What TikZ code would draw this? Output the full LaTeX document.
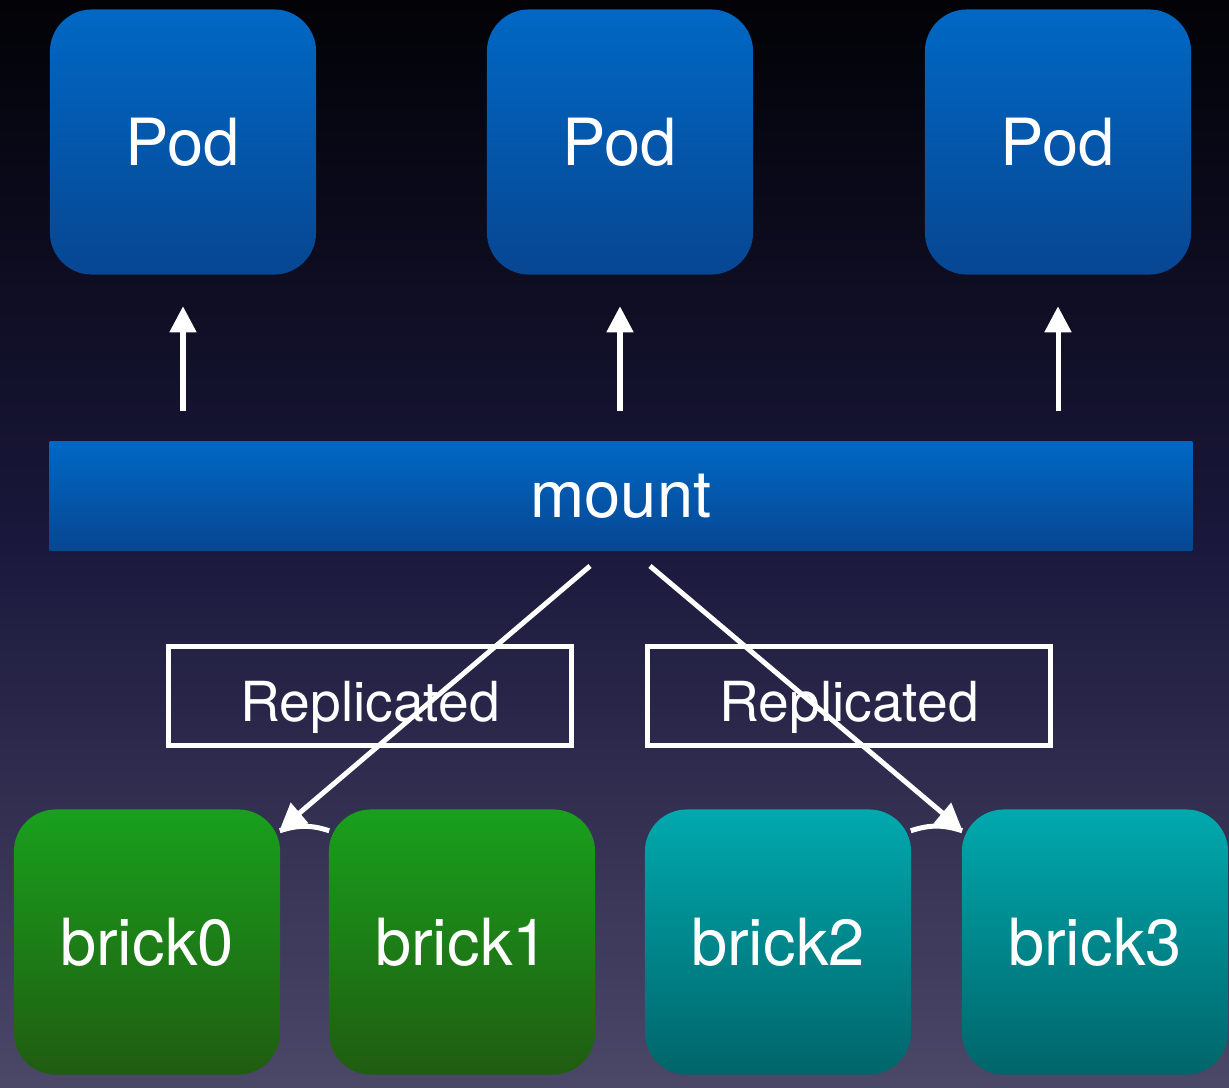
\documentclass[tikz,border=0pt]{standalone}
\usepackage{fontspec}
\setmainfont{TeX Gyre Heros}
\usetikzlibrary{arrows.meta}

\definecolor{bgtop}{HTML}{020207}
\definecolor{bgmid}{HTML}{1A183C}
\definecolor{bgbot}{HTML}{4C4868}
\definecolor{podtop}{HTML}{0068C4}
\definecolor{podbot}{HTML}{074692}
\definecolor{greentop}{HTML}{19A01D}
\definecolor{greenbot}{HTML}{205C11}
\definecolor{tealtop}{HTML}{00A9AE}
\definecolor{tealbot}{HTML}{00656A}

\tikzset{
  label/.style={text=white, font=\fontsize{18.5}{22}\selectfont},
  box/.style={label, rounded corners=0.42cm, minimum width=2.66cm, minimum height=2.65cm, inner sep=0pt},
  pod/.style={box, top color=podtop, bottom color=podbot},
  greenbrick/.style={box, top color=greentop, bottom color=greenbot},
  tealbrick/.style={box, top color=tealtop, bottom color=tealbot},
  bar/.style={label, top color=podtop, bottom color=podbot, minimum width=11.42cm, minimum height=1.08cm, inner sep=0pt},
  repbox/.style={text=white, font=\fontsize{15.7}{19}\selectfont, text height=0.5cm, text depth=0pt, draw=white, line width=0.05cm, minimum width=4.03cm, minimum height=0.99cm, inner sep=0pt},
  link/.style={white, line width=0.05cm},
  arr/.style={link, -{Triangle[width=0.26cm,length=0.26cm]}}
}

\begin{document}
\begin{tikzpicture}[x=0.01cm, y=-0.01cm]
  \foreach \i in {0,...,99} {
    \ifnum\i<50 \colorlet{band}{bgmid!\the\numexpr2*\i\relax!bgtop}\else \colorlet{band}{bgbot!\the\numexpr2*\i-100\relax!bgmid}\fi
    \fill[band] (0, \i*10.87) rectangle (1229, \i*10.87+11.5);
  }
  \useasboundingbox (0, 0) rectangle (1229, 1087);

  \node[pod] (pod1) at (183, 142) {Pod};
  \node[pod] (pod2) at (620, 142) {Pod};
  \node[pod] (pod3) at (1058, 142) {Pod};

  \node[bar] (mount) at (621, 496) {mount};

  \draw[arr, shorten <=0.3cm, shorten >=0.31cm] (mount.north -| pod1) -- (pod1.south);
  \draw[arr, shorten <=0.3cm, shorten >=0.31cm] (mount.north -| pod2) -- (pod2.south);
  \draw[arr, shorten <=0.3cm, shorten >=0.31cm] (mount.north -| pod3) -- (pod3.south);

  \node[repbox] (rep1) at (370, 696) {Replicated};
  \node[repbox] (rep2) at (849, 696) {Replicated};

  \node[greenbrick] (brick0) at (147, 942) {brick0};
  \node[greenbrick] (brick1) at (462, 942) {brick1};
  \node[tealbrick] (brick2) at (778, 942) {brick2};
  \node[tealbrick] (brick3) at (1095, 942) {brick3};

  \coordinate (m1) at (590, 566);
  \coordinate (m2) at (650, 566);
  \draw[arr] (m1) -- ([xshift=-0.01cm, yshift=-0.21cm]brick0.north east);
  \draw[arr] (m2) -- ([xshift=0.01cm, yshift=-0.21cm]brick3.north west);

  \draw[link] ([xshift=-0.01cm, yshift=-0.22cm]brick0.north east) to[bend left=18] ([xshift=0.01cm, yshift=-0.22cm]brick1.north west);
  \draw[link] ([xshift=-0.01cm, yshift=-0.22cm]brick2.north east) to[bend left=18] ([xshift=0.01cm, yshift=-0.22cm]brick3.north west);
\end{tikzpicture}
\end{document}
